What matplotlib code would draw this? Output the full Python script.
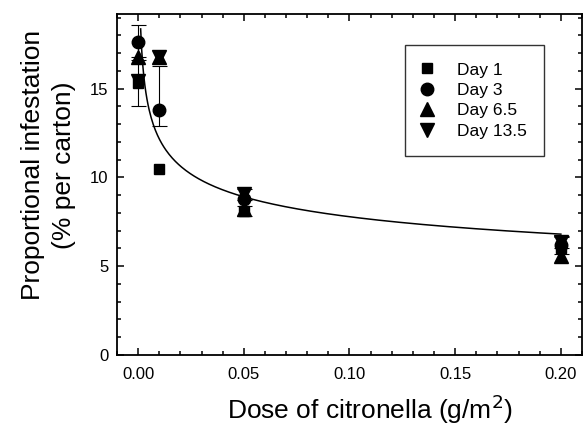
import numpy as np
import matplotlib
matplotlib.use('Agg')
import matplotlib.pyplot as plt
from matplotlib.ticker import MultipleLocator

plt.rcParams['font.family'] = ['Liberation Sans', 'DejaVu Sans']

# Data
dose = [0.0, 0.01, 0.05, 0.2]
day1 = [15.3, 10.5, 8.1, 6.0]
day3 = [17.6, 13.8, 8.8, 6.2]
day65 = [16.8, 16.8, 8.2, 5.6]
day135 = [15.4, 16.8, 9.05, 6.35]

# error bars (lower, upper); nan = no bar
day3_err_lo = [1.0, 0.9, np.nan, 0.5]
day3_err_hi = [1.0, 2.45, np.nan, 0.5]
day135_err = [1.4, np.nan, 0.3, 0.3]
day1_err = [np.nan, np.nan, 0.3, np.nan]

# power-law fit y = a * x^b
fit_a = 4.98
fit_b = -0.194
fit_x0, fit_x1 = 0.0012, 0.2

fig = plt.figure(figsize=(5.84, 4.28), dpi=100)
ax = fig.add_axes([0.2003, 0.1706, 0.7963, 0.7967])

xf = np.linspace(fit_x0, fit_x1, 400)
ax.plot(xf, fit_a * xf**fit_b, color='k', lw=1.1, zorder=2)

ekw = dict(fmt='none', ecolor='k', elinewidth=0.8, capsize=5.4, capthick=0.8, zorder=3)
ax.errorbar(dose, day3, yerr=[day3_err_lo, day3_err_hi], **ekw)
ax.errorbar(dose, day135, yerr=day135_err, **ekw)
ax.errorbar(dose, day1, yerr=day1_err, **ekw)

ax.plot(dose, day1, 's', color='k', ms=7.5, ls='none', label='Day 1', zorder=4)
ax.plot(dose, day3, 'o', color='k', ms=9, ls='none', label='Day 3', zorder=4)
ax.plot(dose, day65, '^', color='k', ms=10, ls='none', label='Day 6.5', zorder=4)
ax.plot(dose, day135, 'v', color='k', ms=10, ls='none', label='Day 13.5', zorder=4)

ax.set_xlim(-0.01, 0.21)
ax.set_ylim(0, 19.2)
ax.xaxis.set_major_locator(MultipleLocator(0.05))
ax.xaxis.set_minor_locator(MultipleLocator(0.01))
ax.yaxis.set_major_locator(MultipleLocator(5))
ax.yaxis.set_minor_locator(MultipleLocator(1))
ax.xaxis.set_major_formatter(plt.FuncFormatter(lambda v, p: f'{v:.2f}'))
ax.tick_params(which='both', direction='in', top=True, right=True, width=1.1, labelsize=12)
ax.tick_params(which='major', length=5, pad=6)
ax.tick_params(axis='x', which='major', pad=9)
ax.tick_params(which='minor', length=2.7)
for s in ax.spines.values():
    s.set_linewidth(1.3)

ax.set_xlabel(r'Dose of citronella (g/m$^2$)', fontsize=19, labelpad=7, x=0.544)
ax.set_ylabel('Proportional infestation\n(% per carton)', fontsize=19, labelpad=10,
              linespacing=1.4, y=0.557)

leg = ax.legend(loc='upper left', bbox_to_anchor=(0.619, 0.909), borderaxespad=0,
                fontsize=12.5, frameon=True, fancybox=False, edgecolor='k',
                handlelength=0.6, handletextpad=1.4, labelspacing=0.3, borderpad=1.0)
leg.get_frame().set_linewidth(1.0)

fig.savefig('out.png', dpi=100)
